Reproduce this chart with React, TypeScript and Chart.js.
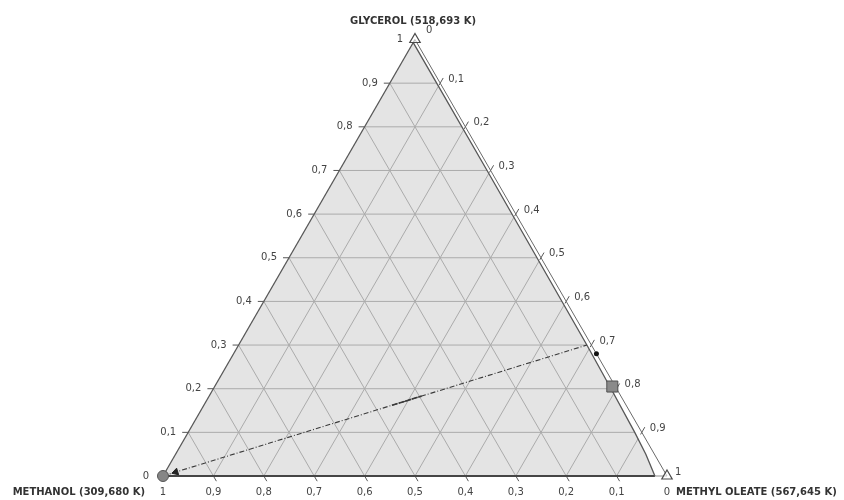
import React, { useEffect, useRef } from "react";
import { Chart, registerables } from "chart.js";

Chart.register(...registerables);

// ---------- data ----------
const TICK_VALUES = [0, 0.1, 0.2, 0.3, 0.4, 0.5, 0.6, 0.7, 0.8, 0.9, 1];
const TICK_LABELS = ["0", "0,1", "0,2", "0,3", "0,4", "0,5", "0,6", "0,7", "0,8", "0,9", "1"];
const GRID_VALUES = [0.1, 0.2, 0.3, 0.4, 0.5, 0.6, 0.7, 0.8, 0.9];

const VERTEX_GLYCEROL = "GLYCEROL (518,693 K)";
const VERTEX_METHANOL = "METHANOL (309,680 K)";
const VERTEX_OLEATE = "METHYL OLEATE (567,645 K)";

// binodal (inner line near the glycerol / methyl oleate edge): glycerol and methanol fractions
const BINODAL_GLYCEROL = [0, 0.05, 0.1, 0.2, 0.3, 0.5, 0.7, 0.9, 0.993];
const BINODAL_METHANOL = [0.024, 0.017, 0.014, 0.011, 0.009, 0.008, 0.007, 0.007, 0.007];

// tie line: methanol vertex -> point on binodal
const TIE_METHANOL = [1, 0.009];
const TIE_GLYCEROL = [0, 0.3];

// markers (methanol, glycerol fractions)
const SQUARE_POINT = [0.006, 0.205];
const DOT_POINT = [0.0, 0.28];

// ---------- geometry ----------
const SQ = Math.sqrt(3) / 2;
const pt = (xM: number, xG: number) => ({ x: 1 - xM - xG / 2, y: xG * SQ });

const binodalAt = (g: number) => {
  for (let i = 0; i < BINODAL_GLYCEROL.length - 1; i++) {
    const g0 = BINODAL_GLYCEROL[i], g1 = BINODAL_GLYCEROL[i + 1];
    if (g >= g0 && g <= g1) {
      const t = (g - g0) / (g1 - g0);
      return BINODAL_METHANOL[i] + t * (BINODAL_METHANOL[i + 1] - BINODAL_METHANOL[i]);
    }
  }
  return BINODAL_METHANOL[BINODAL_METHANOL.length - 1];
};

const L = 6 / 504; // tick length in data units

const GRID_COLOR = "#ababab";
const EDGE_COLOR = "#575757";

function lineDs(points: { x: number; y: number }[], color: string, width: number, order: number, extra: any = {}) {
  return {
    type: "scatter",
    data: points,
    showLine: true,
    borderColor: color,
    borderWidth: width,
    pointRadius: 0,
    fill: false,
    order,
    clip: false,
    ...extra,
  };
}

function buildDatasets() {
  const ds: any[] = [];

  // gray region: left edge up to apex, then binodal down to the bottom
  const regionPts: { x: number; y: number }[] = [pt(1, 0)];
  for (let i = BINODAL_GLYCEROL.length - 1; i >= 0; i--) {
    regionPts.push(pt(BINODAL_METHANOL[i], BINODAL_GLYCEROL[i]));
  }
  ds.push(
    lineDs(regionPts, "rgba(0,0,0,0)", 0, 20, {
      fill: "origin",
      backgroundColor: "#e4e4e4",
    })
  );

  // grid lines
  GRID_VALUES.forEach((v) => {
    // constant glycerol (horizontal)
    ds.push(lineDs([pt(1 - v, v), pt(binodalAt(v), v)], GRID_COLOR, 1, 15));
    // constant methanol (parallel to right edge)
    ds.push(lineDs([pt(v, 0), pt(v, 1 - v)], GRID_COLOR, 1, 15));
    // constant methyl oleate (parallel to left edge), ends on binodal
    let g = 1 - v;
    for (let k = 0; k < 8; k++) g = 1 - v - binodalAt(g);
    ds.push(lineDs([pt(1 - v, 0), pt(binodalAt(g), g)], GRID_COLOR, 1, 15));
  });

  // ticks
  GRID_VALUES.forEach((v) => {
    const pl = pt(1 - v, v);
    ds.push(lineDs([{ x: pl.x - L, y: pl.y }, pl], EDGE_COLOR, 1, 10));
    const pb = pt(v, 0);
    ds.push(lineDs([pb, { x: pb.x + 0.5 * L, y: pb.y - SQ * L }], EDGE_COLOR, 1, 10));
  });
  TICK_VALUES.slice(1, 10).forEach((v) => {
    const pr = pt(0, 1 - v);
    ds.push(
      lineDs(
        [
          { x: pr.x - 0.5 * 0.4 * L, y: pr.y - SQ * 0.4 * L },
          { x: pr.x + 0.5 * L, y: pr.y + SQ * L },
        ],
        EDGE_COLOR,
        1,
        10
      )
    );
  });

  // outer right edge (axis)
  ds.push(lineDs([pt(0, 1), pt(0, 0)], "#6a6a6a", 1, 9));
  // binodal line
  ds.push(
    lineDs(
      BINODAL_GLYCEROL.map((g, i) => pt(BINODAL_METHANOL[i], g)),
      EDGE_COLOR,
      1.3,
      9
    )
  );
  // left edge
  ds.push(lineDs([pt(1, 0), pt(0, 1)], EDGE_COLOR, 1.3, 9));
  // bottom edge
  ds.push(lineDs([pt(1, 0), pt(BINODAL_METHANOL[0], 0)], "#454545", 2, 9));
  ds.push(lineDs([pt(BINODAL_METHANOL[0], 0), pt(0, 0)], "#8a8a8a", 1, 9));

  // tie line
  const a = pt(TIE_METHANOL[0], TIE_GLYCEROL[0]);
  const b = pt(TIE_METHANOL[1], TIE_GLYCEROL[1]);
  const lerp = (t: number) => ({ x: a.x + (b.x - a.x) * t, y: a.y + (b.y - a.y) * t });
  ds.push(lineDs([a, b], "#3a3a3a", 1.1, 5, { borderDash: [5, 2, 1, 2] }));
  ds.push(lineDs([lerp(0.54), lerp(0.61)], "#3a3a3a", 1.6, 5, { borderDash: [6, 1] }));
  // arrowhead near methanol vertex
  ds.push({
    type: "scatter",
    data: [lerp(0.03)],
    pointStyle: "triangle",
    pointRadius: 4,
    pointRotation: 253,
    pointBackgroundColor: "#222",
    pointBorderColor: "#222",
    pointBorderWidth: 1,
    order: 2,
    clip: false,
  });

  // markers
  ds.push({
    type: "scatter",
    data: [pt(1, 0)],
    pointStyle: "circle",
    pointRadius: 5.5,
    pointBackgroundColor: "#868686",
    pointBorderColor: "#555",
    pointBorderWidth: 1,
    order: 1,
    clip: false,
  });
  ds.push({
    type: "scatter",
    data: [pt(0, 1), pt(0, 0)],
    pointStyle: "triangle",
    pointRadius: 6,
    pointBackgroundColor: "rgba(255,255,255,0.6)",
    pointBorderColor: "#4a4a4a",
    pointBorderWidth: 1.2,
    order: 1,
    clip: false,
  });
  ds.push({
    type: "scatter",
    data: [pt(SQUARE_POINT[0], SQUARE_POINT[1])],
    pointStyle: "rect",
    pointRadius: 7.8,
    pointBackgroundColor: "#8a8a8a",
    pointBorderColor: "#505050",
    pointBorderWidth: 1,
    order: 1,
    clip: false,
  });
  ds.push({
    type: "scatter",
    data: [pt(DOT_POINT[0], DOT_POINT[1])],
    pointStyle: "circle",
    pointRadius: 2.5,
    pointBackgroundColor: "#111",
    pointBorderColor: "#111",
    pointBorderWidth: 0,
    order: 1,
    clip: false,
  });
  return ds;
}

const labelPlugin = {
  id: "ternaryLabels",
  afterDatasetsDraw(chart: any) {
    const { ctx } = chart;
    const sx = chart.scales.x, sy = chart.scales.y;
    const px = (p: { x: number; y: number }) => [sx.getPixelForValue(p.x), sy.getPixelForValue(p.y)];
    ctx.save();
    ctx.font = '10px "DejaVu Sans"';
    ctx.fillStyle = "#444";
    ctx.textBaseline = "middle";

    // bottom axis: methanol
    ctx.textAlign = "center";
    TICK_VALUES.forEach((v, i) => {
      const [a, b] = px(pt(v, 0));
      ctx.fillText(TICK_LABELS[i], a, b + 16);
    });
    // left axis: glycerol
    ctx.textAlign = "right";
    TICK_VALUES.forEach((v, i) => {
      const [a, b] = px(pt(1 - v, v));
      ctx.fillText(TICK_LABELS[i], a - (i === 0 ? 14 : 12), b);
    });
    // right axis: methyl oleate
    ctx.textAlign = "left";
    TICK_VALUES.forEach((v, i) => {
      const [a, b] = px(pt(0, 1 - v));
      const dx = i === 0 ? 11 : 8;
      const dy = i === 0 ? -9 : -4;
      ctx.fillText(TICK_LABELS[i], a + dx, b + dy);
    });

    // vertex names
    ctx.font = 'bold 10px "DejaVu Sans"';
    ctx.fillStyle = "#333";
    const [gx, gy] = px(pt(0, 1));
    ctx.textAlign = "center";
    ctx.fillText(VERTEX_GLYCEROL, gx - 2, gy - 18);
    const [mx, my] = px(pt(1, 0));
    ctx.textAlign = "right";
    ctx.fillText(VERTEX_METHANOL, mx - 18, my + 16);
    const [ox, oy] = px(pt(0, 0));
    ctx.textAlign = "left";
    ctx.fillText(VERTEX_OLEATE, ox + 9, oy + 16);
    ctx.restore();
  },
};

// pixel frame: methanol vertex at (163,476), 504 px per unit
const X0 = 163, Y0 = 476, UNIT = 504, W = 844, H = 500;

export default function App() {
  const ref = useRef<HTMLCanvasElement>(null);
  useEffect(() => {
    if (!ref.current) return;
    const chart = new Chart(ref.current, {
      type: "scatter",
      data: { datasets: buildDatasets() },
      options: {
        responsive: false,
        animation: false,
        devicePixelRatio: 1,
        layout: { padding: 0, autoPadding: false },
        plugins: { legend: { display: false }, tooltip: { enabled: false } },
        scales: {
          x: { type: "linear", display: false, min: -X0 / UNIT, max: (W - X0) / UNIT },
          y: { type: "linear", display: false, min: -(H - Y0) / UNIT, max: Y0 / UNIT },
        },
      },
      plugins: [labelPlugin],
    } as any);
    return () => chart.destroy();
  }, []);
  return (
    <div style={{ position: "absolute", left: 0, top: 0, width: W, height: H, background: "#fff" }}>
      <canvas ref={ref} width={W} height={H} style={{ display: "block", width: W, height: H }} />
    </div>
  );
}
